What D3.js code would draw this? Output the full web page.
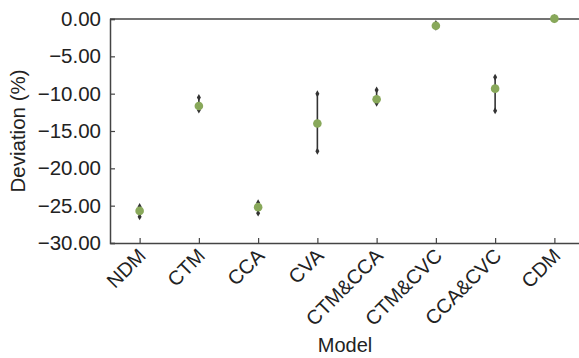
<!DOCTYPE html>
<html><head><meta charset="utf-8">
<script src="https://cdn.jsdelivr.net/npm/d3@7"></script>
<style>body{margin:0;background:#fff}svg{display:block}text{font-family:"Liberation Sans",Arial,sans-serif;fill:#222}</style>
</head><body><svg id="c" width="579" height="358"></svg>
<script>
const categories = ["NDM","CTM","CCA","CVA","CTM&CCA","CTM&CVC","CCA&CVC","CDM"];
const means = [-25.7,-11.65,-25.2,-14.0,-10.75,-0.9,-9.33,0.05];
const upper = [-25.1,-10.5,-24.6,-10.0,-9.5,-0.6,-7.8,0.2];
const lower = [-26.5,-12.2,-26.0,-17.7,-11.3,-1.1,-12.3,-0.1];
const yTicks = [0,-5,-10,-15,-20,-25,-30];

const svg = d3.select("#c");
const L = 110, T = 19, B = 243, R = 584;
const x = d3.scalePoint().domain(categories).range([L, R]).padding(0.5);
const y = d3.scaleLinear().domain([-30, 0]).range([B, T]);

svg.append("line").attr("x1", L).attr("x2", 579).attr("y1", T).attr("y2", T).attr("stroke", "#444").attr("stroke-width", 1.5);

const yAxis = d3.axisLeft(y).tickValues(yTicks).tickSize(-5).tickPadding(9)
  .tickFormat(d => d3.format(".2f")(d).replace("-", "\u2212"));
const gy = svg.append("g").attr("transform", `translate(${L},0)`).call(yAxis);
gy.select(".domain").attr("stroke", "#444").attr("stroke-width", 1.5);
gy.selectAll(".tick line").attr("stroke", "#444").attr("stroke-width", 1.2);
gy.selectAll("text").style("font-size", "20.5px").attr("fill", "#222");

const xAxis = d3.axisBottom(x).tickSize(-5).tickSizeOuter(0).tickPadding(0);
const gx = svg.append("g").attr("transform", `translate(0,${B})`).call(xAxis);
gx.select(".domain").attr("stroke", "#444").attr("stroke-width", 1.5);
gx.selectAll(".tick line").attr("stroke", "#444").attr("stroke-width", 1.2);
gx.selectAll("text").style("font-size", "20px").attr("fill", "#222")
  .attr("text-anchor", "end").attr("dy", null).attr("y", 0)
  .attr("transform", "translate(7,14) rotate(-45)");

const g = svg.append("g");
categories.forEach((c, i) => {
  const cx = x(c);
  g.append("line").attr("x1", cx).attr("x2", cx).attr("y1", y(upper[i])).attr("y2", y(lower[i]))
    .attr("stroke", "#333").attr("stroke-width", 1.6);
  [upper[i], lower[i]].forEach(v => {
    g.append("path").attr("d", d3.symbol(d3.symbolDiamond, 14)()).attr("transform", `translate(${cx},${y(v)})`).attr("fill", "#333");
  });
  g.append("circle").attr("cx", cx).attr("cy", y(means[i])).attr("r", 4.3).attr("fill", "#88a85a");
});

svg.append("text").attr("x", 345).attr("y", 352).attr("text-anchor", "middle").style("font-size", "20px").text("Model");
svg.append("text").attr("transform", "translate(25,131) rotate(-90)").attr("text-anchor", "middle").style("font-size", "20.5px").text("Deviation (%)");
</script></body></html>
